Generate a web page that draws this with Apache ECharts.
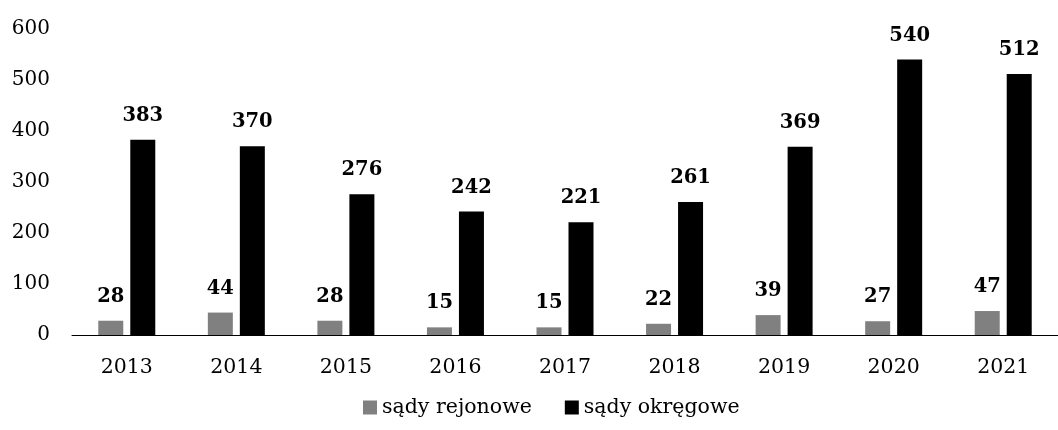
<!DOCTYPE html>
<html><head><meta charset="utf-8">
<script src="https://cdn.jsdelivr.net/npm/echarts@6/dist/echarts.min.js"></script>
<style>html,body{margin:0;padding:0;background:#fff}#c{width:1058px;height:430px}</style>
</head><body><div id="c"></div>
<script>
var years = ['2013','2014','2015','2016','2017','2018','2019','2020','2021'];
var rejonowe = [28,44,28,15,15,22,39,27,47];
var okregowe = [383,370,276,242,221,261,369,540,512];
var seriesNames = ['sądy rejonowe','sądy okręgowe'];
var FONT = 'DejaVu Serif';
var chart = echarts.init(document.getElementById('c'));
var lbl = {show:true, position:'top', distance:14, fontFamily:FONT, fontWeight:'bold', fontSize:19.5, color:'#000'};
chart.setOption({
  animation:false,
  grid:{left:72, width:995, top:29, bottom:95},
  legend:{bottom:7, left:358, itemWidth:14, itemHeight:14, itemGap:33, icon:'rect',
    textStyle:{fontFamily:FONT, fontSize:20.5, color:'#000'}, data:seriesNames},
  xAxis:{type:'category', data:years, axisTick:{show:false},
    axisLine:{lineStyle:{color:'#000', width:1}},
    axisLabel:{fontFamily:FONT, fontSize:20.5, color:'#000', margin:22}},
  yAxis:{type:'value', min:0, max:600, interval:100, splitLine:{show:false},
    axisLine:{show:false}, axisTick:{show:false},
    axisLabel:{fontFamily:FONT, fontSize:20, color:'#000', margin:22}},
  series:[
    {name:seriesNames[0], type:'bar', data:rejonowe, barWidth:25, barGap:'28%',
     itemStyle:{color:'#808080'}, label:lbl},
    {name:seriesNames[1], type:'bar', data:okregowe, barWidth:25,
     itemStyle:{color:'#000000'}, label:lbl}
  ]
});
</script></body></html>
